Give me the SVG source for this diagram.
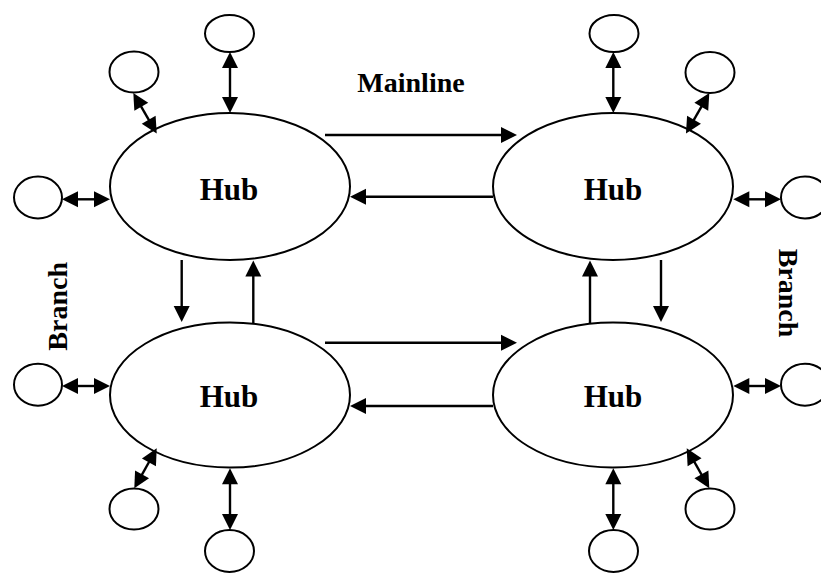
<svg xmlns="http://www.w3.org/2000/svg" xmlns:xlink="http://www.w3.org/1999/xlink" width="821" height="573" viewBox="0 0 821 573">
<style>
.hub{fill:#fff;stroke:#000;stroke-width:2}
.sm{fill:#fff;stroke:#000;stroke-width:2}
.c line{stroke:#000;stroke-width:2.4}
.c use{fill:#000}
text{font-family:"Liberation Serif","Times New Roman",serif;font-weight:bold;fill:#000}
.hl{font-size:31px;text-anchor:middle}
.lb{font-size:28px;text-anchor:middle}
</style>
<defs>
<path id="hd" d="M0,0 L-16,-8 L-16,8 z"/>
</defs>
<rect width="821" height="573" fill="#fff"/>
<g id="hub-tl"><ellipse class="hub" cx="230" cy="186.5" rx="120" ry="73.5"/><text class="hl" x="229" y="199.5">Hub</text></g>
<g id="hub-tr"><ellipse class="hub" cx="613" cy="186.5" rx="120" ry="73.5"/><text class="hl" x="613" y="199.5">Hub</text></g>
<g id="hub-bl"><ellipse class="hub" cx="230" cy="395" rx="120" ry="72.5"/><text class="hl" x="229" y="407">Hub</text></g>
<g id="hub-br"><ellipse class="hub" cx="613" cy="395" rx="120" ry="72.5"/><text class="hl" x="613" y="407">Hub</text></g>
<g id="n-tl-top"><ellipse class="sm" cx="229.5" cy="33.5" rx="24.5" ry="18.5"/></g>
<g id="n-tl-diag"><ellipse class="sm" cx="134" cy="72" rx="24.5" ry="20.5"/></g>
<g id="n-tl-left"><ellipse class="sm" cx="38" cy="197.5" rx="24" ry="21"/></g>
<g id="n-tr-top"><ellipse class="sm" cx="614" cy="33.5" rx="24.5" ry="18.5"/></g>
<g id="n-tr-diag"><ellipse class="sm" cx="710" cy="72.5" rx="24.5" ry="20.5"/></g>
<g id="n-tr-right"><ellipse class="sm" cx="805" cy="197.5" rx="24" ry="21"/></g>
<g id="n-bl-left"><ellipse class="sm" cx="38" cy="384.7" rx="24" ry="21"/></g>
<g id="n-bl-diag"><ellipse class="sm" cx="134" cy="509" rx="24.5" ry="20.5"/></g>
<g id="n-bl-bot"><ellipse class="sm" cx="229.5" cy="551" rx="24.5" ry="21"/></g>
<g id="n-br-right"><ellipse class="sm" cx="805" cy="384.7" rx="24" ry="21"/></g>
<g id="n-br-diag"><ellipse class="sm" cx="710" cy="509" rx="24.5" ry="20.5"/></g>
<g id="n-br-bot"><ellipse class="sm" cx="613.5" cy="551" rx="24.5" ry="21"/></g>
<g id="connectors" class="c">
<line x1="325" y1="135" x2="507" y2="135"/>
<use href="#hd" xlink:href="#hd" transform="translate(517,135)"/>
<line x1="493" y1="196.7" x2="360" y2="196.7"/>
<use href="#hd" xlink:href="#hd" transform="translate(350,196.7) rotate(180)"/>
<line x1="325" y1="342.7" x2="507" y2="342.7"/>
<use href="#hd" xlink:href="#hd" transform="translate(517,342.7)"/>
<line x1="493" y1="406" x2="360" y2="406"/>
<use href="#hd" xlink:href="#hd" transform="translate(350,406) rotate(180)"/>
<line x1="181.7" y1="260" x2="181.7" y2="312"/>
<use href="#hd" xlink:href="#hd" transform="translate(181.7,322) rotate(90)"/>
<line x1="253.3" y1="323" x2="253.3" y2="270.5"/>
<use href="#hd" xlink:href="#hd" transform="translate(253.3,260.5) rotate(-90)"/>
<line x1="590" y1="323" x2="590" y2="270.5"/>
<use href="#hd" xlink:href="#hd" transform="translate(590,260.5) rotate(-90)"/>
<line x1="661" y1="260" x2="661" y2="312"/>
<use href="#hd" xlink:href="#hd" transform="translate(661,322) rotate(90)"/>
<line x1="230" y1="62" x2="230" y2="103"/>
<use href="#hd" xlink:href="#hd" transform="translate(230,52) rotate(-90)"/>
<use href="#hd" xlink:href="#hd" transform="translate(230,113) rotate(90)"/>
<line x1="138.3" y1="101.7" x2="151.7" y2="124.8"/>
<use href="#hd" xlink:href="#hd" transform="translate(133.3,93) rotate(240)"/>
<use href="#hd" xlink:href="#hd" transform="translate(156.7,133.5) rotate(60)"/>
<line x1="72" y1="199.3" x2="100" y2="199.3"/>
<use href="#hd" xlink:href="#hd" transform="translate(62,199.3) rotate(180)"/>
<use href="#hd" xlink:href="#hd" transform="translate(110,199.3)"/>
<line x1="613.3" y1="62" x2="613.3" y2="103"/>
<use href="#hd" xlink:href="#hd" transform="translate(613.3,52) rotate(-90)"/>
<use href="#hd" xlink:href="#hd" transform="translate(613.3,113) rotate(90)"/>
<line x1="704.3" y1="101.7" x2="691" y2="124.8"/>
<use href="#hd" xlink:href="#hd" transform="translate(709.3,93) rotate(-60)"/>
<use href="#hd" xlink:href="#hd" transform="translate(686,133.5) rotate(120)"/>
<line x1="743.3" y1="199.3" x2="771" y2="199.3"/>
<use href="#hd" xlink:href="#hd" transform="translate(733.3,199.3) rotate(180)"/>
<use href="#hd" xlink:href="#hd" transform="translate(781,199.3)"/>
<line x1="72" y1="386" x2="100" y2="386"/>
<use href="#hd" xlink:href="#hd" transform="translate(62,386) rotate(180)"/>
<use href="#hd" xlink:href="#hd" transform="translate(110,386)"/>
<line x1="151.8" y1="457" x2="139.2" y2="479.6"/>
<use href="#hd" xlink:href="#hd" transform="translate(156.7,448.3) rotate(-61)"/>
<use href="#hd" xlink:href="#hd" transform="translate(134.3,488.3) rotate(119)"/>
<line x1="230" y1="478.3" x2="230" y2="520"/>
<use href="#hd" xlink:href="#hd" transform="translate(230,468.3) rotate(-90)"/>
<use href="#hd" xlink:href="#hd" transform="translate(230,530) rotate(90)"/>
<line x1="743.3" y1="386" x2="771" y2="386"/>
<use href="#hd" xlink:href="#hd" transform="translate(733.3,386) rotate(180)"/>
<use href="#hd" xlink:href="#hd" transform="translate(781,386)"/>
<line x1="691.6" y1="457" x2="704.4" y2="479.6"/>
<use href="#hd" xlink:href="#hd" transform="translate(686.7,448.3) rotate(-119.5)"/>
<use href="#hd" xlink:href="#hd" transform="translate(709.3,488.3) rotate(60.5)"/>
<line x1="613.3" y1="478.3" x2="613.3" y2="520"/>
<use href="#hd" xlink:href="#hd" transform="translate(613.3,468.3) rotate(-90)"/>
<use href="#hd" xlink:href="#hd" transform="translate(613.3,530) rotate(90)"/>
</g>
<text class="lb" x="411" y="91.7">Mainline</text>
<text class="lb" transform="translate(67.3,306.3) rotate(-90)" x="0" y="0">Branch</text>
<text class="lb" transform="translate(779.3,293) rotate(90)" x="0" y="0">Branch</text>
</svg>
